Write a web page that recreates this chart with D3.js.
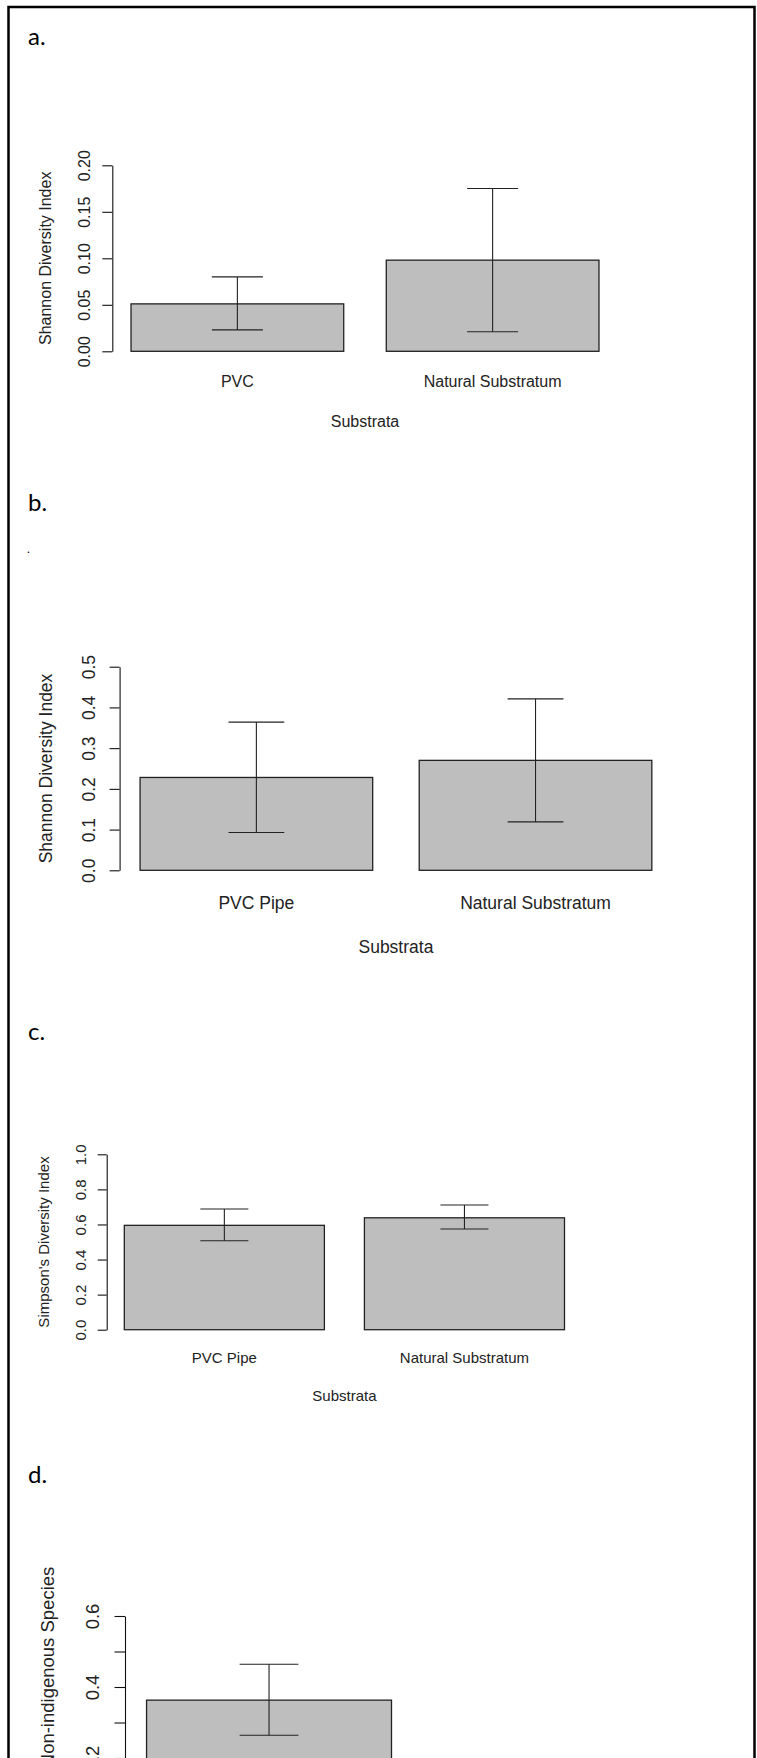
<!DOCTYPE html>
<html lang="en">
<head>
  <meta charset="utf-8">
  <script src="https://d3js.org/d3.v7.min.js"></script>
  <style>
    body {
      margin: 0;
      background: white;
    }

    .axis path,
    .axis line {
      fill: none;
      stroke: #111;
      stroke-width: 1.1px;
    }

    .axis text {
      fill: #222;
      font-family: "Liberation Sans", Arial, sans-serif;
    }

    .bar {
      fill: #bebebe;
      stroke: #222;
      stroke-width: 1.3px;
    }

    .err {
      stroke: #222;
      stroke-width: 1.1px;
      fill: none;
    }

    .lab {
      fill: #222;
      font-family: "Liberation Sans", Arial, sans-serif;
    }

    .panel-tag {
      font-family: Lato, "Open Sans", sans-serif;
      font-size: 24px;
      fill: #000;
    }
  </style>
</head>
<body>
<div id="chart"></div>
<script>
  // panel tags
  var panelTags = ["a.", "b.", "c.", "d."];

  // a. Shannon, PVC vs natural
  var catsA = ["PVC", "Natural Substratum"];
  var meanA = [0.051, 0.098];
  var lowA = [0.023, 0.021];
  var highA = [0.080, 0.175];
  var ticksA = [0, 0.05, 0.10, 0.15, 0.20];

  // b. Shannon, PVC pipe vs natural
  var catsB = ["PVC Pipe", "Natural Substratum"];
  var meanB = [0.228, 0.270];
  var lowB = [0.093, 0.119];
  var highB = [0.364, 0.421];
  var ticksB = [0, 0.1, 0.2, 0.3, 0.4, 0.5];

  // c. Simpson
  var catsC = ["PVC Pipe", "Natural Substratum"];
  var meanC = [0.595, 0.638];
  var lowC = [0.507, 0.574];
  var highC = [0.688, 0.711];
  var ticksC = [0, 0.2, 0.4, 0.6, 0.8, 1.0];

  // d. non-indigenous species (cut off at page bottom)
  var catsD = ["PVC Pipe", "Natural Substratum"];
  var meanD = [0.363, 0.08];
  var lowD = [0.264, 0.03];
  var highD = [0.464, 0.14];
  var ticksD = [0, 0.1, 0.2, 0.3, 0.4, 0.5, 0.6];
  var labelledD = [0, 0.2, 0.4, 0.6];

  var W = 757, H = 1758;

  var svg = d3.select("#chart").append("svg")
          .attr("width", W)
          .attr("height", H)
          .style("display", "block");

  // outer frame
  svg.append("rect")
          .attr("x", 8.5).attr("y", 7)
          .attr("width", 746).attr("height", H + 20)
          .attr("fill", "none")
          .attr("stroke", "#000")
          .attr("stroke-width", 2.5);

  var panels = [
    {tag: panelTags[0], tagY: 45, cats: catsA, mean: meanA, low: lowA, high: highA, ticks: ticksA,
      fmt: d3.format(".2f"), ytitle: "Shannon Diversity Index",
      left: 112.3, right: 617.7, y0: 351.3, y1: 165.3, fs: 16, tl: 10},
    {tag: panelTags[1], tagY: 511, cats: catsB, mean: meanB, low: lowB, high: highB, ticks: ticksB,
      fmt: d3.format(".1f"), ytitle: "Shannon Diversity Index",
      left: 119.6, right: 672.3, y0: 870.3, y1: 666.7, fs: 17.5, tl: 10},
    {tag: panelTags[2], tagY: 1040, cats: catsC, mean: meanC, low: lowC, high: highC, ticks: ticksC,
      fmt: d3.format(".1f"), ytitle: "Simpson's Diversity Index",
      left: 106.7, right: 582.1, y0: 1329.7, y1: 1154.3, fs: 15, tl: 9},
    {tag: panelTags[3], tagY: 1483, cats: catsD, mean: meanD, low: lowD, high: highD, ticks: ticksD,
      fmt: function (d) { return labelledD.some(function (v) { return Math.abs(v - d) < 1e-9; }) ? d3.format(".1f")(d) : ""; },
      ytitle: "Proportion of Non-indigenous Species",
      left: 125, right: 707, y0: 1829, y1: 1616, fs: 18.5, tl: 10.5}
  ];

  // R barplot layout: width 1, space 0.2, 4% extension of the x range
  var barL = [0.2, 1.4];

  panels.forEach(function (p) {
    var g = svg.append("g");

    g.append("text")
            .attr("class", "panel-tag")
            .attr("x", 28)
            .attr("y", p.tagY)
            .text(p.tag);

    var x = d3.scaleLinear().domain([0.2 - 0.088, 2.4 + 0.088]).range([p.left, p.right]);
    var y = d3.scaleLinear().domain([0, d3.max(p.ticks)]).range([p.y0, p.y1]);

    var rows = p.cats.map(function (c, i) {
      return {cat: c, l: barL[i], m: p.mean[i], lo: p.low[i], hi: p.high[i]};
    });

    g.selectAll("rect.bar")
            .data(rows)
            .enter().append("rect")
            .attr("class", "bar")
            .attr("x", function (d) { return x(d.l); })
            .attr("width", function (d) { return x(d.l + 1) - x(d.l); })
            .attr("y", function (d) { return y(d.m); })
            .attr("height", function (d) { return y(0) - y(d.m); });

    // error bars with flat caps
    var eb = g.selectAll("g.eb")
            .data(rows)
            .enter().append("g");
    eb.append("line").attr("class", "err")
            .attr("x1", function (d) { return x(d.l + 0.5); })
            .attr("x2", function (d) { return x(d.l + 0.5); })
            .attr("y1", function (d) { return y(d.lo); })
            .attr("y2", function (d) { return y(d.hi); });
    eb.append("line").attr("class", "err")
            .attr("x1", function (d) { return x(d.l + 0.38); })
            .attr("x2", function (d) { return x(d.l + 0.62); })
            .attr("y1", function (d) { return y(d.hi); })
            .attr("y2", function (d) { return y(d.hi); });
    eb.append("line").attr("class", "err")
            .attr("x1", function (d) { return x(d.l + 0.38); })
            .attr("x2", function (d) { return x(d.l + 0.62); })
            .attr("y1", function (d) { return y(d.lo); })
            .attr("y2", function (d) { return y(d.lo); });

    // y axis, labels parallel to the axis
    var gy = g.append("g")
            .attr("class", "axis")
            .attr("transform", "translate(" + p.left + ",0)")
            .call(d3.axisLeft(y).tickValues(p.ticks).tickFormat(p.fmt)
                    .tickSize(p.tl).tickSizeOuter(0));
    gy.selectAll("text")
            .attr("x", null)
            .attr("dy", null)
            .attr("text-anchor", "middle")
            .attr("dominant-baseline", "central")
            .attr("font-size", p.fs)
            .attr("transform", "translate(" + (-1.75 * p.fs) + ",0) rotate(-90)");

    g.append("text")
            .attr("class", "lab")
            .attr("font-size", p.fs)
            .attr("text-anchor", "middle")
            .attr("dominant-baseline", "central")
            .attr("transform", "translate(" + (p.left - 4.2 * p.fs) + "," + ((p.y0 + p.y1) / 2) + ") rotate(-90)")
            .text(p.ytitle);

    // category names and x title
    g.selectAll("text.cat")
            .data(rows)
            .enter().append("text")
            .attr("class", "lab")
            .attr("font-size", p.fs)
            .attr("text-anchor", "middle")
            .attr("dominant-baseline", "central")
            .attr("x", function (d) { return x(d.l + 0.5); })
            .attr("y", p.y0 + 1.87 * p.fs)
            .text(function (d) { return d.cat; });

    g.append("text")
            .attr("class", "lab")
            .attr("font-size", p.fs)
            .attr("text-anchor", "middle")
            .attr("dominant-baseline", "central")
            .attr("x", (p.left + p.right) / 2)
            .attr("y", p.y0 + 4.4 * p.fs)
            .text("Substrata");
  });

  // stray full stop under panel b's tag
  svg.append("text")
          .attr("class", "panel-tag")
          .attr("font-size", 12)
          .style("font-size", "12px")
          .attr("x", 27)
          .attr("y", 553)
          .text(".");
</script>
</body>
</html>
